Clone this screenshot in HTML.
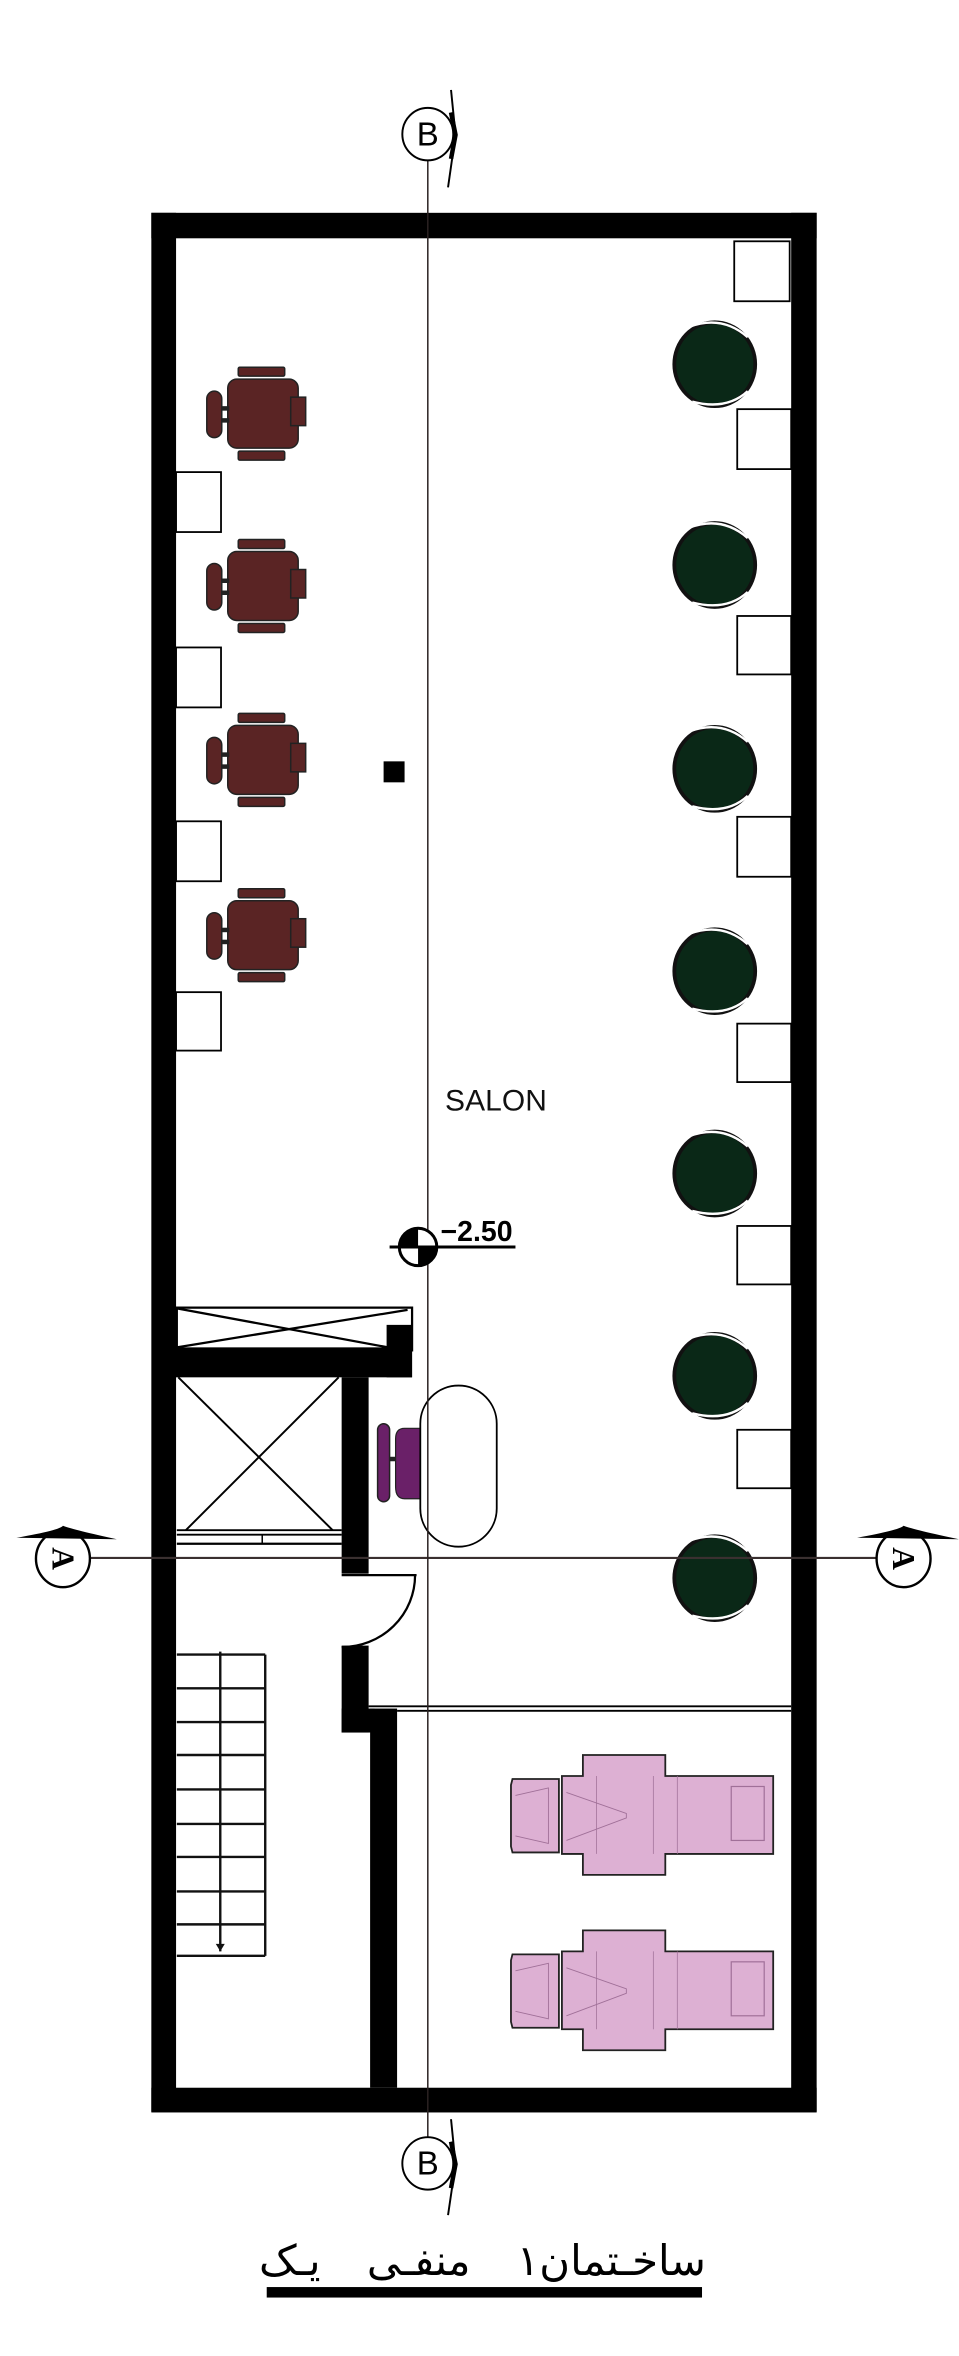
<!DOCTYPE html>
<html><head><meta charset="utf-8"><style>html,body{margin:0;padding:0;background:#fff}svg{display:block}</style></head>
<body>
<svg width="959" height="2356" viewBox="0 0 640 1572" preserveAspectRatio="none" xmlns="http://www.w3.org/2000/svg">
<defs>
<g id="mchair">
 <rect x="159" y="245" width="31" height="6" rx="1" fill="#5a2424" stroke="#222" stroke-width="1"/>
 <rect x="159" y="301" width="31" height="6" rx="1" fill="#5a2424" stroke="#222" stroke-width="1"/>
 <rect x="152" y="253" width="47" height="46" rx="6" fill="#5a2424" stroke="#222" stroke-width="1"/>
 <rect x="194" y="265" width="10" height="19" fill="#5a2424" stroke="#222" stroke-width="1"/>
 <rect x="148" y="271" width="5" height="3" fill="#222"/>
 <rect x="148" y="279" width="5" height="3" fill="#222"/>
 <rect x="138" y="261" width="10" height="31" rx="5" fill="#5a2424" stroke="#222" stroke-width="1"/>
</g>
<g id="gchair">
 <ellipse cx="477" cy="243" rx="27" ry="28" fill="#0a2817" stroke="#111" stroke-width="2.5"/>
 <path d="M460 218 Q482 210 499 225" fill="none" stroke="#fff" stroke-width="1.6"/>
 <path d="M462 268 Q485 274 499 261" fill="none" stroke="#fff" stroke-width="1.6"/>
</g>
<g id="bed" stroke="#222" fill="#ddb0d3">
 <path d="M342 1187 L373 1187 L373 1236 L342 1236 L341 1232 L341 1191 Z" stroke-width="1.2"/>
 <path d="M389 1171 L444 1171 L444 1185 L516 1185 L516 1237 L444 1237 L444 1251 L389 1251 L389 1237 L375 1237 L375 1185 L389 1185 Z" stroke-width="1.2"/>
 <rect x="488" y="1192" width="22" height="36" fill="none" stroke="#a07098" stroke-width="0.8"/>
 <path d="M344 1198 L366 1193 L366 1230 L344 1225" fill="none" stroke="#a07098" stroke-width="0.6"/>
 <path d="M378 1196 L418 1210 L418 1213 L378 1228" fill="none" stroke="#a07098" stroke-width="0.6"/>
 <line x1="398" y1="1185" x2="398" y2="1237" stroke="#a07098" stroke-width="0.5"/>
 <line x1="436" y1="1185" x2="436" y2="1237" stroke="#a07098" stroke-width="0.5"/>
 <line x1="452" y1="1185" x2="452" y2="1237" stroke="#a07098" stroke-width="0.5"/>
</g>
</defs>

<rect x="101" y="142" width="444" height="17" fill="#000"/>
<rect x="101" y="142" width="16.5" height="1267" fill="#000"/>
<rect x="528" y="142" width="17" height="1267" fill="#000"/>
<rect x="101" y="1393" width="444" height="16.5" fill="#000"/>

<g fill="#fff" stroke="#000" stroke-width="1.2">
<rect x="117.5" y="315" width="30" height="40"/>
<rect x="117.5" y="432" width="30" height="40"/>
<rect x="117.5" y="548" width="30" height="40"/>
<rect x="117.5" y="662" width="30" height="39"/>
<rect x="490" y="161" width="37" height="40"/>
<rect x="492" y="273" width="36" height="40"/>
<rect x="492" y="411" width="36" height="39"/>
<rect x="492" y="545" width="36" height="40"/>
<rect x="492" y="683" width="36" height="39"/>
<rect x="492" y="818" width="36" height="39"/>
<rect x="492" y="954" width="36" height="39"/>
</g>

<use href="#mchair"/>
<use href="#mchair" transform="translate(0,115)"/>
<use href="#mchair" transform="translate(0,231)"/>
<use href="#mchair" transform="translate(0,348)"/>

<use href="#gchair"/>
<use href="#gchair" transform="translate(0,134)"/>
<use href="#gchair" transform="translate(0,270)"/>
<use href="#gchair" transform="translate(0,405)"/>
<use href="#gchair" transform="translate(0,540)"/>
<use href="#gchair" transform="translate(0,675)"/>
<use href="#gchair" transform="translate(0,810)"/>

<rect x="256" y="508" width="14" height="14" fill="#000"/>

<text x="297" y="741" font-family="Liberation Sans, sans-serif" font-size="20" textLength="68" fill="#111">SALON</text>

<rect x="118" y="872.5" width="157" height="28.5" fill="#fff" stroke="#000" stroke-width="1.5"/>
<line x1="118" y1="873" x2="259" y2="899" stroke="#000" stroke-width="1.5"/>
<line x1="118" y1="899" x2="272" y2="874" stroke="#000" stroke-width="1.5"/>
<rect x="117" y="899" width="158" height="20" fill="#000"/>
<rect x="258" y="884" width="17" height="35" fill="#000"/>
<line x1="119" y1="919" x2="222" y2="1021" stroke="#000" stroke-width="1.3"/>
<line x1="226" y1="919" x2="124" y2="1021" stroke="#000" stroke-width="1.3"/>
<line x1="118" y1="1021" x2="228" y2="1021" stroke="#000" stroke-width="1.3"/>
<line x1="118" y1="1024" x2="228" y2="1024" stroke="#000" stroke-width="1.3"/>
<line x1="118" y1="1030" x2="228" y2="1030" stroke="#000" stroke-width="1.5"/>
<line x1="175" y1="1024" x2="175" y2="1030" stroke="#000" stroke-width="1"/>
<rect x="228" y="919" width="18" height="131" fill="#000"/>
<line x1="228" y1="1051" x2="278" y2="1051" stroke="#000" stroke-width="1.5"/>
<path d="M277 1051 A49 48 0 0 1 228 1099" fill="none" stroke="#000" stroke-width="1.5"/>
<rect x="228" y="1098" width="18" height="58" fill="#000"/>
<rect x="228" y="1140" width="22" height="16" fill="#000"/>
<rect x="247" y="1140" width="18" height="253" fill="#000"/>
<line x1="246" y1="1138.5" x2="528" y2="1138.5" stroke="#000" stroke-width="1.2"/>
<line x1="265" y1="1141.5" x2="528" y2="1141.5" stroke="#000" stroke-width="1.2"/>

<g stroke="#111" stroke-width="1.6">
<line x1="118" y1="1104" x2="177" y2="1104"/>
<line x1="118" y1="1126.5" x2="177" y2="1126.5"/>
<line x1="118" y1="1149" x2="177" y2="1149"/>
<line x1="118" y1="1171" x2="177" y2="1171"/>
<line x1="118" y1="1194" x2="177" y2="1194"/>
<line x1="118" y1="1217" x2="177" y2="1217"/>
<line x1="118" y1="1239" x2="177" y2="1239"/>
<line x1="118" y1="1262" x2="177" y2="1262"/>
<line x1="118" y1="1284" x2="177" y2="1284"/>
<line x1="118" y1="1305" x2="177" y2="1305"/>
<line x1="147" y1="1102" x2="147" y2="1302"/>
<line x1="177" y1="1104" x2="177" y2="1305"/>
</g>
<path d="M144 1297 L150 1297 L147 1302 Z" fill="#111"/>

<rect x="252" y="950" width="8" height="52" rx="4" fill="#6a2068" stroke="#222" stroke-width="1"/>
<rect x="260" y="972" width="5" height="3" fill="#222"/>
<path d="M281 953 L270 953 Q264 953 264 960 L264 992 Q264 1000 270 1000 L281 1000 Z" fill="#6a2068" stroke="#222" stroke-width="0.8"/>
<rect x="280.5" y="924.5" width="51" height="107.5" rx="25.5" fill="#fff" stroke="#000" stroke-width="1.2"/>

<use href="#bed"/>
<use href="#bed" transform="translate(0,117)"/>

<line x1="60" y1="1039.5" x2="585" y2="1039.5" stroke="#3a3030" stroke-width="1.4"/>
<ellipse cx="42" cy="1040" rx="18" ry="19" fill="#fff" stroke="#000" stroke-width="1.6"/>
<text x="42" y="1040" font-family="Liberation Serif, serif" font-weight="bold" font-size="21" text-anchor="middle" transform="rotate(90 42 1040)" dy="7" fill="#000">A</text>
<path d="M11 1026 Q40 1021 42 1018 Q50 1021 78 1027 Z" fill="#000"/>
<ellipse cx="603" cy="1040" rx="18" ry="19" fill="#fff" stroke="#000" stroke-width="1.6"/>
<text x="603" y="1040" font-family="Liberation Serif, serif" font-weight="bold" font-size="21" text-anchor="middle" transform="rotate(90 603 1040)" dy="7" fill="#000">A</text>
<path d="M572 1026 Q600 1021 603 1018 Q611 1021 640 1027 Z" fill="#000"/>

<line x1="285.5" y1="107" x2="285.5" y2="1426" stroke="#2a2222" stroke-width="1"/>
<ellipse cx="285.5" cy="89.5" rx="17" ry="17.5" fill="#fff" stroke="#000" stroke-width="1.3"/>
<text x="285.5" y="97" font-family="Liberation Sans, sans-serif" font-size="22" text-anchor="middle" fill="#000">B</text>
<path d="M301 60 L304 90 L299 125" fill="none" stroke="#000" stroke-width="1.3"/>
<path d="M301 75 L304 90 L301 106" fill="none" stroke="#000" stroke-width="3"/>
<ellipse cx="285.5" cy="1443.5" rx="17" ry="17.5" fill="#fff" stroke="#000" stroke-width="1.3"/>
<text x="285.5" y="1451" font-family="Liberation Sans, sans-serif" font-size="22" text-anchor="middle" fill="#000">B</text>
<path d="M301 1414 L304 1444 L299 1478" fill="none" stroke="#000" stroke-width="1.3"/>
<path d="M301 1429 L304 1444 L301 1460" fill="none" stroke="#000" stroke-width="3"/>

<circle cx="279" cy="832" r="12.5" fill="#fff" stroke="#000" stroke-width="2"/>
<path d="M279 832 L266.5 832 A12.5 12.5 0 0 1 279 819.5 Z" fill="#000"/>
<path d="M279 832 L291.5 832 A12.5 12.5 0 0 1 279 844.5 Z" fill="#000"/>
<line x1="260" y1="832" x2="344" y2="832" stroke="#000" stroke-width="2"/>
<text x="294" y="828" font-family="Liberation Sans, sans-serif" font-weight="bold" font-size="19" fill="#000">−2.50</text>

<text x="322" y="1518" font-family="DejaVu Sans, sans-serif" font-size="28" text-anchor="middle" direction="rtl" word-spacing="22" fill="#000">ساخـتمان۱ منفـی یـک</text>
<rect x="178" y="1526" width="290.5" height="7" fill="#000"/>
</svg>
</body></html>
